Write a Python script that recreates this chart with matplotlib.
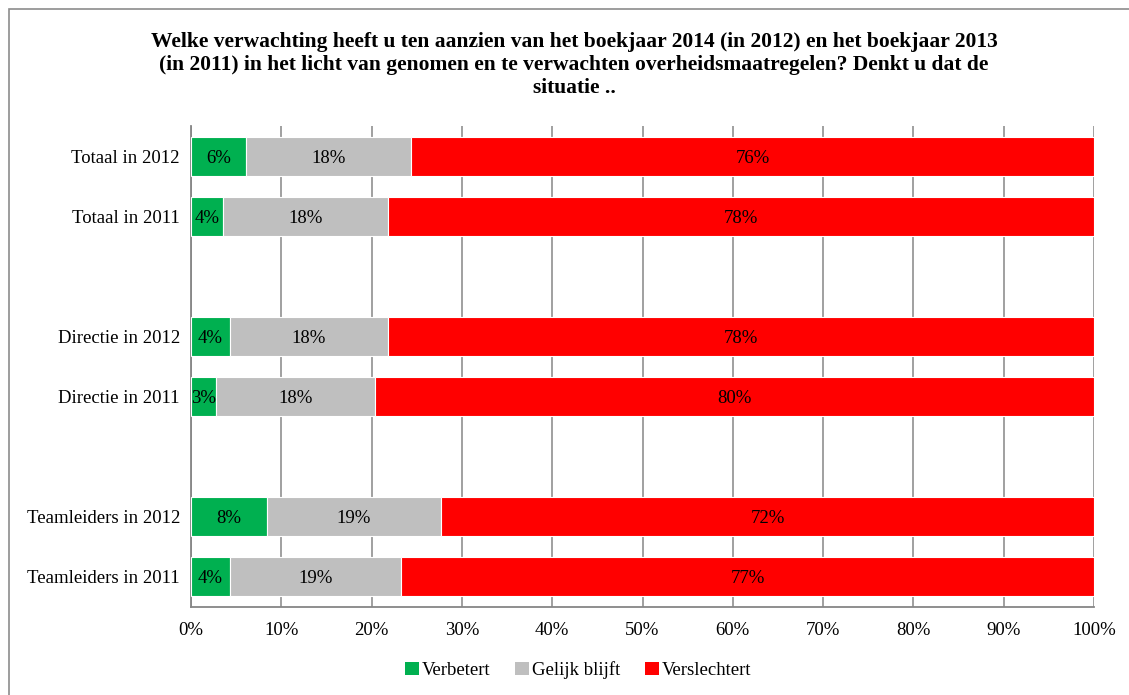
import matplotlib
matplotlib.use("Agg")
import matplotlib.pyplot as plt
from matplotlib.patches import Rectangle, Patch

categories = ["Totaal in 2012", "Totaal in 2011",
              "Directie in 2012", "Directie in 2011",
              "Teamleiders in 2012", "Teamleiders in 2011"]
slots = [0, 1, 3, 4, 6, 7]
verbetert = [6.1, 3.5, 4.3, 2.8, 8.4, 4.3]
gelijk = [18.3, 18.3, 17.5, 17.6, 19.3, 19.0]
verslechtert = [75.6, 78.2, 78.2, 79.6, 72.3, 76.7]
series_names = ["Verbetert", "Gelijk blijft", "Verslechtert"]
colors = ["#00B050", "#BFBFBF", "#FF0000"]
xticks = list(range(0, 101, 10))
title = ("Welke verwachting heeft u ten aanzien van het boekjaar 2014 (in 2012) en het boekjaar 2013\n"
         "(in 2011) in het licht van genomen en te verwachten overheidsmaatregelen? Denkt u dat de\n"
         "situatie ..")

plt.rcParams['font.family'] = ['Liberation Serif', 'DejaVu Serif']
FS = 13.5

fig = plt.figure(figsize=(11.29, 6.95), dpi=100)
W, H = 1129, 695
ax = fig.add_axes([191 / W, 1 - 607 / H, (1094 - 191) / W, (607 - 126) / H])

# outer border
fig.patches.append(Rectangle((9 / W, -0.05), 1.1, (H - 9) / H + 0.05, transform=fig.transFigure,
                             fill=False, edgecolor="#8C8C8C", linewidth=1.2))

left = [0] * len(slots)
for vals, name, c in zip([verbetert, gelijk, verslechtert], series_names, colors):
    bars = ax.barh(slots, vals, left=left, height=0.65, color=c, edgecolor="white",
                   linewidth=0.8, label=name, zorder=3)
    for b, v in zip(bars, vals):
        ax.text(b.get_x() + b.get_width() / 2, b.get_y() + b.get_height() / 2,
                "%d%%" % round(v), ha="center", va="center_baseline", fontsize=FS,
                color="black", zorder=4)
    left = [l + v for l, v in zip(left, vals)]

ax.set_xlim(0, 100)
ax.set_ylim(7.5, -0.5)
ax.set_yticks(slots)
ax.set_yticklabels(categories, fontsize=FS)
ax.set_xticks(xticks)
ax.set_xticklabels(["%d%%" % t for t in xticks], fontsize=FS)
ax.tick_params(axis="both", length=0, pad=8)
ax.tick_params(axis="x", pad=11)
ax.grid(axis="x", color="#868686", linewidth=1.1, zorder=0)
for s in ["top", "right"]:
    ax.spines[s].set_visible(False)
for s in ["left", "bottom"]:
    ax.spines[s].set_color("#868686")
    ax.spines[s].set_linewidth(1.3)

fig.text(574 / W, 1 - 65 / H, title, ha="center", va="center", fontsize=15.5,
         fontweight="bold", linespacing=1.17)

handles = [Patch(facecolor=c, edgecolor="none") for c in colors]
fig.legend(handles, series_names, loc="center", bbox_to_anchor=(578 / W, 1 - 670 / H),
           ncol=3, frameon=False, fontsize=FS, handlelength=0.75, handleheight=0.75,
           handletextpad=0.15, columnspacing=1.3)

fig.savefig("out.png", dpi=100)
